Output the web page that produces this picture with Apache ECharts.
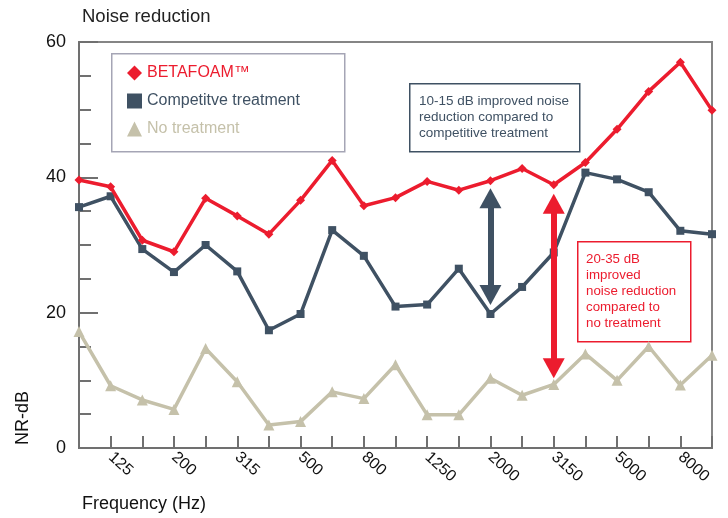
<!DOCTYPE html>
<html>
<head>
<meta charset="utf-8">
<script src="https://cdn.jsdelivr.net/npm/echarts@6/dist/echarts.min.js"></script>
<style>
  html, body { margin: 0; padding: 0; background: #fff; }
  #chart { width: 728px; height: 518px; }
</style>
</head>
<body>
<div id="chart"></div>
<script>
// 1/3 octave bands
var freqs = ['100', '125', '160', '200', '250', '315', '400', '500', '630', '800', '1000',
  '1250', '1600', '2000', '2500', '3150', '4000', '5000', '6300', '8000', '10000'];

var betafoam = [39.6, 38.6, 30.7, 29.0, 36.9, 34.3, 31.6, 36.6, 42.5, 35.8, 37.0,
  39.4, 38.1, 39.5, 41.3, 38.9, 42.2, 47.1, 52.7, 57.0, 49.9];
var competitive = [35.6, 37.2, 29.4, 26.0, 30.0, 26.1, 17.4, 19.8, 32.2, 28.4, 20.9,
  21.2, 26.5, 19.8, 23.8, 28.9, 40.7, 39.7, 37.8, 32.1, 31.6];
var noTreatment = [17.2, 9.2, 7.1, 5.7, 14.7, 9.8, 3.4, 3.9, 8.3, 7.3, 12.3,
  4.9, 4.9, 10.3, 7.8, 9.4, 13.9, 10.0, 15.0, 9.3, 13.7];

// double arrows: [category, top, bottom]
var arrowCompetitive = ['2000', 36.9, 22.6];
var arrowNone = ['3150', 36.1, 11.8];

var RED = '#ec1c2e';
var DARK = '#3f5163';
var BEIGE = '#c5c1aa';
var FONT = '"Liberation Sans", Arial, sans-serif';

var chart = echarts.init(document.getElementById('chart'));

function arrow(a, color) {
  return {
    silent: true,
    symbol: ['triangle', 'triangle'],
    symbolSize: [22, 20],
    label: { show: false },
    lineStyle: { color: color, width: 6, type: 'solid' },
    data: [[{ coord: [a[0], a[1]] }, { coord: [a[0], a[2]] }]]
  };
}

var option = {
  animation: false,
  textStyle: { fontFamily: FONT },
  title: {
    text: 'Noise reduction',
    left: 82,
    top: 7,
    padding: 0,
    textStyle: { fontSize: 18.5, fontWeight: 'normal', color: '#222', fontFamily: FONT }
  },
  legend: {
    orient: 'vertical',
    left: 122,
    top: 60,
    itemWidth: 15,
    itemHeight: 15,
    itemGap: 12,
    textStyle: { fontSize: 16, fontFamily: FONT },
    data: [
      { name: 'BETAFOAM™', icon: 'diamond', textStyle: { color: RED } },
      { name: 'Competitve treatment', icon: 'rect', textStyle: { color: DARK } },
      { name: 'No treatment', icon: 'triangle', textStyle: { color: BEIGE } }
    ]
  },
  grid: {
    left: 79, right: 16, top: 42, bottom: 70,
    show: true, borderColor: '#858585', borderWidth: 2
  },
  xAxis: {
    type: 'category',
    data: freqs,
    boundaryGap: false,
    axisLine: { lineStyle: { color: '#707070', width: 2 } },
    axisTick: { inside: true, length: 12, interval: 0, lineStyle: { color: '#707070', width: 2 } },
    axisLabel: {
      interval: function (i) { return i % 2 === 1; },
      rotate: -42,
      margin: 7,
      fontSize: 16,
      color: '#111'
    }
  },
  yAxis: {
    type: 'value',
    min: 0, max: 60, interval: 20,
    splitLine: { show: false },
    axisLine: { show: true, lineStyle: { color: '#707070', width: 2 } },
    axisTick: { show: true, inside: true, length: 19, lineStyle: { color: '#707070', width: 2 } },
    minorTick: { show: true, splitNumber: 4, length: 12, lineStyle: { color: '#707070', width: 2 } },
    axisLabel: { fontSize: 18, color: '#111', margin: 13 }
  },
  graphic: [
    {
      type: 'rect', left: 111, top: 53, z: 0,
      shape: { width: 233, height: 98 },
      style: { fill: '#fff', stroke: '#a5a5b5', lineWidth: 1.5 }
    },
    {
      type: 'rect', left: 409, top: 83, z: 0,
      shape: { width: 170, height: 68 },
      style: { fill: '#fff', stroke: DARK, lineWidth: 1.5 }
    },
    {
      type: 'text', left: 419, top: 93, z: 10,
      style: {
        text: '10-15 dB improved noise\nreduction compared to\ncompetitive treatment',
        fill: DARK, font: '13.5px ' + FONT, lineHeight: 16
      }
    },
    {
      type: 'rect', left: 577, top: 241, z: 0,
      shape: { width: 113, height: 100 },
      style: { fill: '#fff', stroke: RED, lineWidth: 1.5 }
    },
    {
      type: 'text', left: 586, top: 251, z: 10,
      style: {
        text: '20-35 dB\nimproved\nnoise reduction\ncompared to\nno treatment',
        fill: RED, font: '13.3px ' + FONT, lineHeight: 16
      }
    },
    {
      type: 'text', x: 23, y: 418, rotation: Math.PI / 2,
      style: { text: 'NR-dB', fill: '#111', font: '18px ' + FONT, align: 'center', verticalAlign: 'middle' }
    },
    {
      type: 'text', left: 82, top: 495,
      style: { text: 'Frequency (Hz)', fill: '#111', font: '18px ' + FONT }
    }
  ],
  series: [
    {
      name: 'No treatment',
      type: 'line',
      data: noTreatment,
      symbol: 'triangle',
      symbolSize: 11,
      color: BEIGE,
      lineStyle: { width: 3.5, color: BEIGE },
      itemStyle: { color: BEIGE },
      z: 2
    },
    {
      name: 'Competitve treatment',
      type: 'line',
      data: competitive,
      symbol: 'rect',
      symbolSize: 8,
      color: DARK,
      lineStyle: { width: 3.5, color: DARK },
      itemStyle: { color: DARK },
      markLine: arrow(arrowCompetitive, DARK),
      z: 3
    },
    {
      name: 'BETAFOAM™',
      type: 'line',
      data: betafoam,
      symbol: 'diamond',
      symbolSize: 9,
      color: RED,
      lineStyle: { width: 3.5, color: RED },
      itemStyle: { color: RED },
      markLine: arrow(arrowNone, RED),
      z: 4
    }
  ]
};

chart.setOption(option);
</script>
</body>
</html>
